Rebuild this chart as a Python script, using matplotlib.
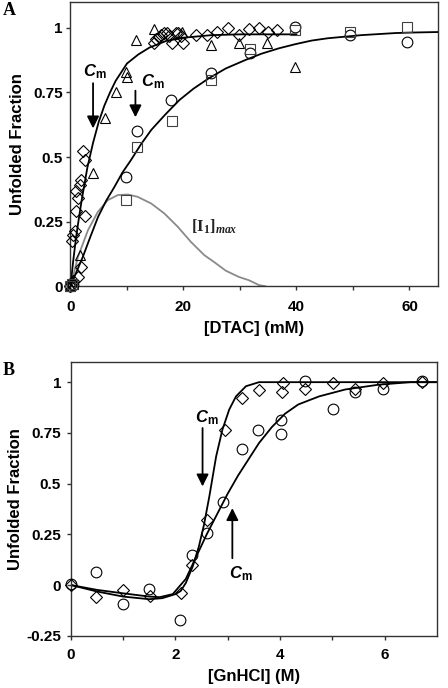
import matplotlib
matplotlib.use("Agg")
import matplotlib.pyplot as plt

plt.rcParams['font.family'] = ['Liberation Sans', 'DejaVu Sans']
plt.rcParams['font.weight'] = 'bold'
plt.rcParams['mathtext.fontset'] = 'custom'
plt.rcParams['mathtext.it'] = 'Liberation Sans:italic:bold'
plt.rcParams['mathtext.rm'] = 'Liberation Sans:bold'
plt.rcParams['mathtext.bf'] = 'Liberation Serif:bold'
plt.rcParams['mathtext.sf'] = 'Liberation Serif:italic'

# ---- panel A : DTAC ----
a_dia_x = [0, 0.2, 0.5, 0.2, 0.45, 0.75, 0.9, 1.05, 1.25, 1.65, 1.95, 2.25, 2.55, 2.5, 1.95, 1.35,
           14.7, 15.2, 15.6, 16.1, 16.6, 17.1, 17.5, 18.0, 18.6, 19.1, 19.6, 20.0,
           22.2, 24.2, 26.0, 27.9, 29.8, 31.6, 33.4, 35.0, 36.6]
a_dia_y = [0, 0.01, 0.02, 0.175, 0.2, 0.215, 0.29, 0.37, 0.34, 0.39, 0.41, 0.525, 0.49, 0.27, 0.075, 0.036,
           0.943, 0.956, 0.966, 0.973, 0.979, 0.982, 0.969, 0.94, 0.98, 0.982, 0.97, 0.943,
           0.973, 0.973, 0.986, 0.999, 0.973, 0.995, 0.999, 0.986, 0.99]
a_tri_x = [0, 0.4, 1.65, 3.98, 6.1, 8.1, 9.9, 10.0, 11.6, 14.8, 19.8, 24.8, 29.8, 34.8, 39.8]
a_tri_y = [0, 0.01, 0.12, 0.437, 0.65, 0.753, 0.83, 0.81, 0.955, 0.995, 0.986, 0.934, 0.94, 0.943, 0.85]
a_cir_x = [0, 0.5, 9.9, 11.8, 17.8, 24.8, 31.7, 39.8, 49.5, 59.5]
a_cir_y = [0, 0.005, 0.421, 0.60, 0.72, 0.824, 0.904, 1.005, 0.973, 0.947]
a_sq_x = [0, 0.3, 9.9, 11.7, 17.9, 24.8, 31.7, 39.8, 49.5, 59.5]
a_sq_y = [0, 0.01, 0.333, 0.54, 0.64, 0.798, 0.917, 0.992, 0.986, 1.005]

fit1_x = [0, 0.5, 1, 1.5, 2, 3, 4, 5, 6, 7, 8, 10, 12, 14, 17, 20, 25, 30, 40]
fit1_y = [0, 0.1, 0.19, 0.264, 0.335, 0.46, 0.555, 0.636, 0.699, 0.75, 0.795, 0.862, 0.897, 0.924, 0.95, 0.962, 0.972, 0.975, 0.975]
fit2_x = [0, 1.0, 2.2, 3.5, 4.9, 6.3, 7.8, 9.2, 10.7, 12.5, 14.3, 16.8, 19.3, 21.8, 24.5, 27.5, 31.0,
          33.8, 36.9, 39.8, 42.7, 45.6, 48.6, 51.5, 54.5, 57.5, 60.4, 65]
fit2_y = [0, 0.052, 0.114, 0.19, 0.269, 0.33, 0.385, 0.44, 0.488, 0.55, 0.605, 0.665, 0.721, 0.765, 0.805,
          0.843, 0.876, 0.9, 0.921, 0.937, 0.951, 0.96, 0.966, 0.972, 0.976, 0.98, 0.982, 0.984]
inter_x = [0, 1.34, 3.1, 4.86, 6.6, 8.4, 10.2, 11.9, 14.3, 16.6, 19.0, 21.3, 23.7, 25.4, 27.5, 29.8, 31.6, 33.4, 34.5]
inter_y = [0, 0.114, 0.217, 0.288, 0.333, 0.353, 0.355, 0.346, 0.32, 0.282, 0.23, 0.172, 0.12, 0.094, 0.06, 0.036, 0.023, 0.004, 0]

# ---- panel B : GnHCl ----
b_dia_x = [0, 0.49, 1.0, 1.51, 2.1, 2.32, 2.61, 2.94, 3.28, 3.6, 4.05, 4.03, 4.48, 5.02, 5.44, 5.98, 6.71]
b_dia_y = [0, -0.061, -0.025, -0.053, -0.041, 0.099, 0.32, 0.763, 0.923, 0.96, 0.997, 0.952, 0.967, 0.997, 0.964, 0.997, 1.0]
b_cir_x = [0, 0.48, 0.99, 1.5, 2.08, 2.31, 2.6, 2.92, 3.27, 3.59, 4.02, 4.02, 4.48, 5.02, 5.43, 5.98, 6.71]
b_cir_y = [0.003, 0.066, -0.095, -0.021, -0.173, 0.148, 0.255, 0.407, 0.67, 0.763, 0.812, 0.746, 1.005, 0.87, 0.95, 0.964, 1.005]

steep_x = [0, 0.5, 1.0, 1.5, 1.75, 2.0, 2.1, 2.2, 2.33, 2.45, 2.55, 2.65, 2.78, 2.9, 3.03, 3.16, 3.35, 3.6, 7.0]
steep_y = [0, -0.032, -0.057, -0.07, -0.065, -0.045, -0.03, 0.01, 0.09, 0.19, 0.3, 0.437, 0.634, 0.766, 0.865, 0.93, 0.98, 1.0, 1.0]
shal_x = [0, 0.5, 1.0, 1.5, 1.7, 1.95, 2.2, 2.4, 2.6, 2.8, 3.0, 3.2, 3.4, 3.6, 3.85, 4.1, 4.35, 4.75, 5.25, 5.9, 6.5, 7.0]
shal_y = [0, -0.024, -0.041, -0.057, -0.06, -0.045, 0.03, 0.14, 0.25, 0.35, 0.45, 0.54, 0.62, 0.70, 0.78, 0.845, 0.89, 0.93, 0.964, 0.988, 1.0, 1.0]

fig = plt.figure(figsize=(4.48, 6.88), dpi=100)
axA = fig.add_axes([0.156, 0.584, 0.821, 0.413])
axB = fig.add_axes([0.158, 0.076, 0.817, 0.398])

mk = dict(linestyle='none', markerfacecolor='none', markeredgewidth=0.8, clip_on=False, zorder=3)

axA.plot(inter_x, inter_y, color='#8a8a8a', lw=1.3, zorder=2)
axA.plot(fit1_x, fit1_y, color='k', lw=1.3, zorder=2)
axA.plot(fit2_x, fit2_y, color='k', lw=1.3, zorder=2)
axA.plot(a_dia_x, a_dia_y, marker='D', ms=6.0, markeredgecolor='k', **mk)
axA.plot(a_tri_x, a_tri_y, marker='^', ms=7.2, markeredgecolor='k', **mk)
axA.plot(a_cir_x, a_cir_y, marker='o', ms=7.7, markeredgecolor='k', **mk)
axA.plot(a_sq_x, a_sq_y, marker='s', ms=6.5, markeredgecolor='#404040', **mk)

arrow = dict(arrowstyle='-|>', color='k', lw=1.3, mutation_scale=18, shrinkA=0, shrinkB=0)
axA.annotate('', xy=(4.0, 0.611), xytext=(4.0, 0.786), arrowprops=arrow)
axA.annotate('', xy=(11.5, 0.654), xytext=(11.5, 0.757), arrowprops=arrow)
axA.text(4.3, 0.83, r'$C_{\mathrm{m}}$', fontsize=12, ha='center', va='center')
axA.text(14.6, 0.79, r'$C_{\mathrm{m}}$', fontsize=12, ha='center', va='center')
axA.text(25.5, 0.23, r'$\mathbf{[I}_{\mathbf{1}}\mathbf{]}_{\mathsf{max}}$', fontsize=12,
         ha='center', va='center', color='#222222')

axA.set_xlim(-0.1, 65)
axA.set_ylim(0, 1.1)
axA.set_xticks([0, 20, 40, 60])
axA.set_xticklabels(['0', '20', '40', '60'])
axA.set_xticks([10, 30, 50], minor=True)
axA.set_yticks([0, 0.25, 0.5, 0.75, 1])
axA.set_yticklabels(['0', '0.25', '0.5', '0.75', '1'])
axA.tick_params(axis='x', which='major', pad=7)
axA.tick_params(axis='y', which='major', pad=2)
axA.set_xlabel('[DTAC] (mM)', fontsize=12, fontweight='bold', labelpad=5)
axA.set_ylabel('Unfolded Fraction', fontsize=12, fontweight='bold', labelpad=6)

axB.plot(steep_x, steep_y, color='k', lw=1.3, zorder=2)
axB.plot(shal_x, shal_y, color='k', lw=1.3, zorder=2)
axB.plot(b_cir_x, b_cir_y, marker='o', ms=7.7, markeredgecolor='k', **mk)
axB.plot(b_dia_x, b_dia_y, marker='D', ms=6.0, markeredgecolor='k', **mk)
axB.annotate('', xy=(2.52, 0.486), xytext=(2.52, 0.774), arrowprops=arrow)
axB.annotate('', xy=(3.09, 0.379), xytext=(3.09, 0.132), arrowprops=arrow)
axB.text(2.6, 0.825, r'$C_{\mathrm{m}}$', fontsize=12, ha='center', va='center')
axB.text(3.25, 0.058, r'$C_{\mathrm{m}}$', fontsize=12, ha='center', va='center')

axB.set_xlim(0, 7)
axB.set_ylim(-0.25, 1.1)
axB.set_xticks([0, 2, 4, 6])
axB.set_xticklabels(['0', '2', '4', '6'])
axB.set_xticks([1, 3, 5], minor=True)
axB.set_yticks([-0.25, 0, 0.25, 0.5, 0.75, 1])
axB.set_yticklabels(['-0.25', '0', '0.25', '0.5', '0.75', '1'])
axB.tick_params(axis='x', which='major', pad=6)
axB.tick_params(axis='y', which='major', pad=4)
axB.set_xlabel('[GnHCl] (M)', fontsize=12, fontweight='bold', labelpad=5)
axB.set_ylabel('Unfolded Fraction', fontsize=12, fontweight='bold', labelpad=2)

for ax in (axA, axB):
    for sp in ax.spines.values():
        sp.set_color('#333333')
        sp.set_linewidth(1.0)
    ax.tick_params(which='major', direction='out', length=3, width=1, color='#333333', labelsize=11)
    ax.tick_params(which='minor', direction='out', length=3, width=1, color='#333333')
    for lab in ax.get_xticklabels() + ax.get_yticklabels():
        lab.set_fontweight('bold')

fig.text(0.006, 0.985, 'A', fontsize=13, fontweight='bold', family='Liberation Serif', va='center')
fig.text(0.006, 0.462, 'B', fontsize=13, fontweight='bold', family='Liberation Serif', va='center')

fig.savefig('out.png', dpi=100)
